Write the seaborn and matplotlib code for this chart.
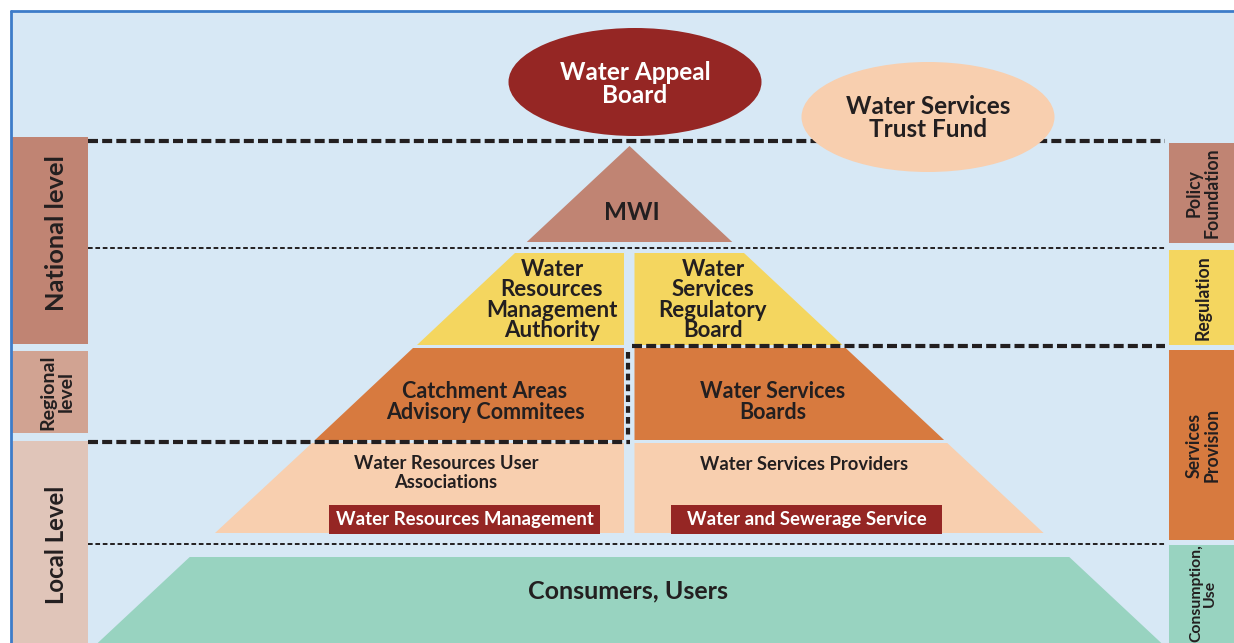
import matplotlib
matplotlib.use("Agg")
import matplotlib.pyplot as plt
from matplotlib.patches import Polygon, Rectangle, Ellipse
import seaborn as sns

sns.set_theme(style="white")
plt.rcParams["font.family"] = ["Lato", "DejaVu Sans"]

# --- content of the diagram ---
left_levels = ["National level", "Regional\nlevel", "Local Level"]
right_functions = ["Policy\nFoundation", "Regulation", "Services\nProvision", "Consumption,\nUse"]
top_bodies = ["Water Appeal\nBoard", "Water Services\nTrust Fund"]
apex_body = "MWI"
resources_side = ["Water\nResources\nManagement\nAuthority",
                  "Catchment Areas\nAdvisory Commitees",
                  "Water Resources User\nAssociations"]
services_side = ["Water\nServices\nRegulatory\nBoard",
                 "Water Services\nBoards",
                 "Water Services Providers"]
sector_tags = ["Water Resources Management", "Water and Sewerage Service"]
base_body = "Consumers, Users"

# --- styles ---
BG = "#D7E8F5"
BORDER = "#3D7CC9"
INK = "#231F20"
BROWN = "#C08473"
DARKRED = "#952624"
PEACH = "#F8CFAF"
YELLOW = "#F4D65F"
ORANGE = "#D77A3F"
GREEN = "#98D3C0"
left_colors = [BROWN, "#D1A392", "#E0C5B9"]
right_colors = [BROWN, YELLOW, ORANGE, GREEN]
tier_colors = [YELLOW, ORANGE, PEACH]

fig = plt.figure(figsize=(12.34, 6.43), dpi=100)
ax = fig.add_axes([0, 0, 1, 1])
ax.set_xlim(0, 1234)
ax.set_ylim(643, 0)
ax.axis("off")

# frame
ax.add_patch(Rectangle((11, 11), 1230, 640, facecolor=BG, edgecolor="none"))
ax.plot([11, 11], [11, 643], color=BORDER, lw=2)
ax.plot([11, 1234], [11, 11], color=BORDER, lw=2)

# pyramid geometry (pixel space)
CX, APEX, SLOPE = 629.5, 146, 1.07


def edge(y):
    return SLOPE * (y - APEX)


def trapezoid(y0, y1, side, color, gap=6):
    if side == "left":
        pts = [(CX - edge(y0), y0), (CX - gap, y0), (CX - gap, y1), (CX - edge(y1), y1)]
    elif side == "right":
        pts = [(CX + gap, y0), (CX + edge(y0), y0), (CX + edge(y1), y1), (CX + gap, y1)]
    else:
        pts = [(CX - edge(y0), y0), (CX + edge(y0), y0), (CX + edge(y1), y1), (CX - edge(y1), y1)]
    ax.add_patch(Polygon(pts, closed=True, facecolor=color, edgecolor="none"))


def label(x, y, txt, fs, color=INK, ls=1.0, **kw):
    return ax.text(x, y, txt, ha="center", va="center", fontsize=fs, fontweight="bold",
                   color=color, linespacing=ls, **kw)


# MWI triangle
ax.add_patch(Polygon([(CX, APEX), (CX + edge(242), 242), (CX - edge(242), 242)],
                     facecolor=BROWN, edgecolor="none"))
label(CX + 2, 212, apex_body, 17.5)

# tiers on both sides
tier_rows = [(253, 345), (348, 440), (443, 533)]
for (y0, y1), col in zip(tier_rows, tier_colors):
    trapezoid(y0, y1, "left", col)
    trapezoid(y0, y1, "right", col, gap=5)

tier_sizes = [16, 15.5, 13.2]
tier_spacing = [0.97, 0.95, 1.08]
left_pos = [(552, 300), (485, 402), (446, 473)]
right_pos = [(713, 300), (773, 402), (804, 464)]
for txt, (x, y), fs, ls in zip(resources_side, left_pos, tier_sizes, tier_spacing):
    label(x, y, txt, fs, ls=ls)
for txt, (x, y), fs, ls in zip(services_side, right_pos, tier_sizes, tier_spacing):
    label(x, y, txt, fs, ls=ls)

# dark red tags
for txt, (x0, x1) in zip(sector_tags, [(329, 600), (671, 942)]):
    ax.add_patch(Rectangle((x0, 505), x1 - x0, 29, facecolor=DARKRED, edgecolor="none"))
    label((x0 + x1) / 2, 519, txt, 13.4, color="white")

# consumers base
trapezoid(557, 643, "full", GREEN)
label(628, 591, base_body, 18)

# dashed level lines
thick = dict(color=INK, lw=3, linestyle=(0, (2.4, 1.0)), zorder=5)
thin = dict(color=INK, lw=1.4, linestyle=(0, (2.4, 1.4)), zorder=5)
ax.plot([88, 1165], [141, 141], **thick)
ax.plot([88, 1165], [248, 248], **thin)
ax.plot([632, 1165], [346, 346], **thick)
ax.plot([88, 630], [442, 442], **thick)
ax.plot([628, 628], [352, 436], color=INK, lw=3, linestyle=(0, (1.6, 1.0)), zorder=5)
ax.plot([88, 1165], [544, 544], **thin)

# top ellipses
ax.add_patch(Ellipse((635, 82), 253, 108, facecolor=DARKRED, edgecolor="none", zorder=6))
label(635, 84, top_bodies[0], 17.5, color="white", ls=0.98, zorder=7)
ax.add_patch(Ellipse((928, 117), 253, 110, facecolor=PEACH, edgecolor="none", zorder=6))
label(928, 118, top_bodies[1], 17.5, ls=0.98, zorder=7)

# left level boxes
left_spans = [(137, 344), (351, 433), (441, 643)]
left_sizes = [18.3, 14, 17.3]
left_centers = [233, 392, 545]
for txt, (y0, y1), col, fs, yc in zip(left_levels, left_spans, left_colors, left_sizes, left_centers):
    ax.add_patch(Rectangle((11, y0), 77, y1 - y0, facecolor=col, edgecolor="none"))
    label(57, yc, txt, fs, ls=1.12, rotation=90)

# right function boxes
right_spans = [(143, 243), (250, 345), (350, 540), (545, 643)]
right_centers = [193, 298, 445, 593]
right_sizes = [12.7, 12.7, 12.7, 11.3]
for txt, (y0, y1), col, fs, yc in zip(right_functions, right_spans, right_colors, right_sizes, right_centers):
    ax.add_patch(Rectangle((1169, y0), 70, y1 - y0, facecolor=col, edgecolor="none"))
    label(1203, yc, txt, fs, ls=1.02, rotation=90)

fig.savefig("out.png", dpi=100)
